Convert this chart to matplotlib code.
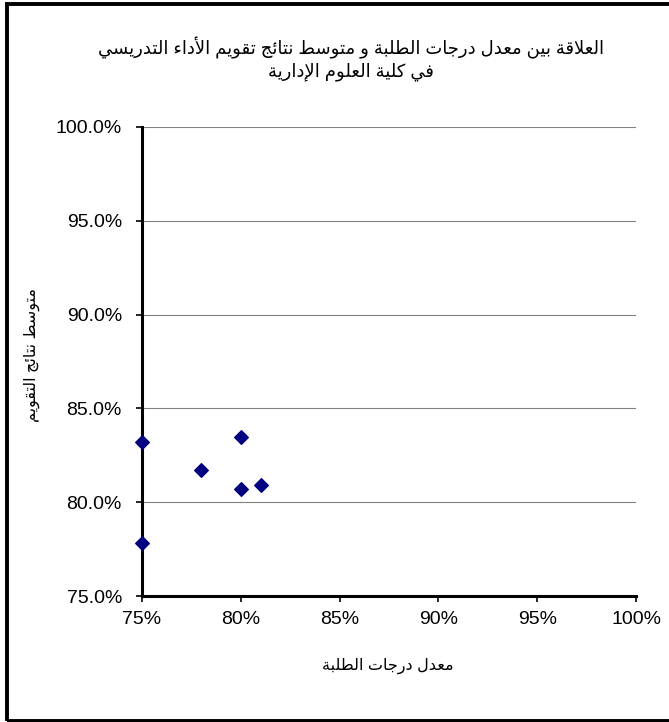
import matplotlib
matplotlib.use("Agg")
import matplotlib.pyplot as plt
from matplotlib.patches import Rectangle
from matplotlib.ticker import PercentFormatter

# data
student_avg = [0.75, 0.75, 0.78, 0.80, 0.80, 0.81]
eval_avg = [0.832, 0.778, 0.817, 0.835, 0.807, 0.809]

title_txt = "العلاقة بين معدل درجات الطلبة و متوسط نتائج تقويم الأداء التدريسي\nفي كلية العلوم الإدارية"
xlabel_txt = "معدل درجات الطلبة"
ylabel_txt = "متوسط نتائج التقويم"

x_ticks = [0.75, 0.80, 0.85, 0.90, 0.95, 1.00]
y_ticks = [0.75, 0.80, 0.85, 0.90, 0.95, 1.00]

# tiny arabic shaper (matplotlib does no shaping / bidi)
# letter -> (isolated form code, dual joining?)
forms = {
    'ء': (0xFE80, None), 'آ': (0xFE81, False), 'أ': (0xFE83, False),
    'ؤ': (0xFE85, False), 'إ': (0xFE87, False), 'ئ': (0xFE89, True),
    'ا': (0xFE8D, False), 'ب': (0xFE8F, True), 'ة': (0xFE93, False),
    'ت': (0xFE95, True), 'ث': (0xFE99, True), 'ج': (0xFE9D, True),
    'ح': (0xFEA1, True), 'خ': (0xFEA5, True), 'د': (0xFEA9, False),
    'ذ': (0xFEAB, False), 'ر': (0xFEAD, False), 'ز': (0xFEAF, False),
    'س': (0xFEB1, True), 'ش': (0xFEB5, True), 'ص': (0xFEB9, True),
    'ض': (0xFEBD, True), 'ط': (0xFEC1, True), 'ظ': (0xFEC5, True),
    'ع': (0xFEC9, True), 'غ': (0xFECD, True), 'ف': (0xFED1, True),
    'ق': (0xFED5, True), 'ك': (0xFED9, True), 'ل': (0xFEDD, True),
    'م': (0xFEE1, True), 'ن': (0xFEE5, True), 'ه': (0xFEE9, True),
    'و': (0xFEED, False), 'ى': (0xFEEF, False), 'ي': (0xFEF1, True),
    # lam-alef ligatures
    '\uFEFB': (0xFEFB, False), '\uFEF7': (0xFEF7, False),
    '\uFEF9': (0xFEF9, False), '\uFEF5': (0xFEF5, False),
}
lam_alef = {'ا': '\uFEFB', 'أ': '\uFEF7', 'إ': '\uFEF9', 'آ': '\uFEF5'}


def shape_line(s):
    chars = []
    i = 0
    while i < len(s):
        if s[i] == 'ل' and i + 1 < len(s) and s[i + 1] in lam_alef:
            chars.append(lam_alef[s[i + 1]])
            i += 2
        else:
            chars.append(s[i])
            i += 1
    out = []
    for i, c in enumerate(chars):
        if c not in forms or forms[c][1] is None:
            out.append(c)
            continue
        base, dual = forms[c]
        prev = chars[i - 1] if i > 0 else None
        nxt = chars[i + 1] if i + 1 < len(chars) else None
        join_prev = prev in forms and forms[prev][1] is True
        join_next = dual and nxt in forms and forms[nxt][1] is not None
        if join_prev and join_next:
            code = base + 3
        elif join_prev:
            code = base + 1
        elif join_next:
            code = base + 2
        else:
            code = base
        out.append(chr(code))
    return ''.join(out[::-1])


def ar(s):
    return '\n'.join(shape_line(l) for l in s.split('\n'))


plt.rcParams['font.family'] = ['Liberation Sans', 'DejaVu Sans']

fig = plt.figure(figsize=(6.69, 7.22), dpi=100)
ax = fig.add_axes([0.2123, 0.1745, 0.7384, 0.6496])

ax.scatter(student_avg, eval_avg, marker='D', s=48, color='#000080',
           zorder=3, clip_on=False)

ax.set_xlim(0.75, 1.0)
ax.set_ylim(0.75, 1.0)
ax.set_xticks(x_ticks)
ax.set_yticks(y_ticks)
ax.xaxis.set_major_formatter(PercentFormatter(1.0, decimals=0))
ax.yaxis.set_major_formatter(PercentFormatter(1.0, decimals=1))
ax.tick_params(labelsize=14, length=4.5, width=1.2, direction='out')
ax.tick_params(axis='y', pad=10)
ax.tick_params(axis='x', pad=6)

ax.grid(axis='y', color='#808080', linewidth=0.8)
ax.set_axisbelow(True)
for side in ['top', 'right']:
    ax.spines[side].set_visible(False)
ax.spines['left'].set_linewidth(2.2)
ax.spines['bottom'].set_linewidth(2.2)

fig.text(0.525, 0.918, ar(title_txt), fontsize=13, ha='center', va='center',
         linespacing=1.25)
fig.text(0.58, 0.0776, ar(xlabel_txt), fontsize=11.5, ha='center', va='center')
fig.text(0.048, 0.508, ar(ylabel_txt), fontsize=11.5, ha='center', va='center',
         rotation=90)

# chart area frame, its right edge lies outside the picture
fig.patches.append(Rectangle((0.0112, 0.002), 1.05, 0.9918, transform=fig.transFigure,
                             fill=False, edgecolor='black', linewidth=2.8))

fig.savefig('out.png', dpi=100)
